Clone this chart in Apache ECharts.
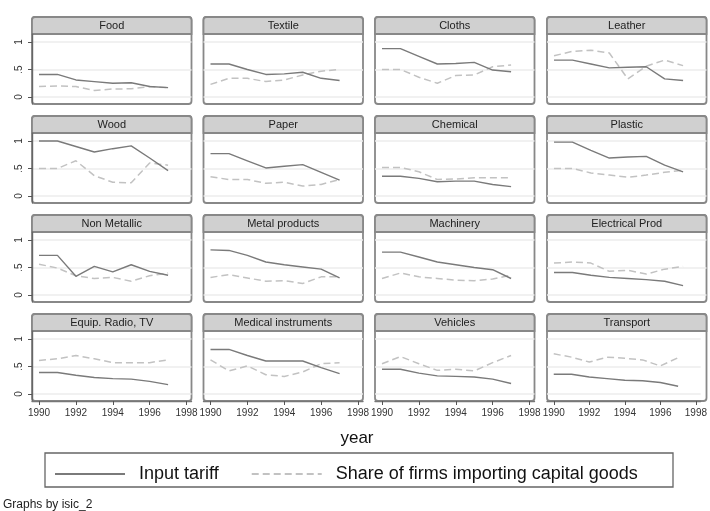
<!DOCTYPE html>
<html>
<head>
<meta charset="utf-8">
<script src="https://cdn.jsdelivr.net/npm/echarts@6/dist/echarts.min.js"></script>
<style>html,body{margin:0;padding:0;background:#fff}#c{width:710px;height:511px}</style>
</head>
<body>
<div id="c"></div>
<script>
const years = [1990, 1991, 1992, 1993, 1994, 1995, 1996, 1997];
const xTicks = [1990, 1992, 1994, 1996, 1998];
const yTicks = [0, 0.5, 1];
const industries = ["Food", "Textile", "Cloths", "Leather", "Wood", "Paper", "Chemical", "Plastic",
  "Non Metallic", "Metal products", "Machinery", "Electrical Prod",
  "Equip. Radio, TV", "Medical instruments", "Vehicles", "Transport"];

const tariffFood = [0.41, 0.41, 0.31, 0.28, 0.25, 0.26, 0.19, 0.17];
const shareFood = [0.19, 0.20, 0.19, 0.12, 0.145, 0.15, 0.19, 0.17];
const tariffTextile = [0.60, 0.60, 0.50, 0.41, 0.42, 0.45, 0.34, 0.30];
const shareTextile = [0.23, 0.34, 0.34, 0.28, 0.31, 0.40, 0.47, 0.50];
const tariffCloths = [0.88, 0.88, 0.74, 0.60, 0.61, 0.63, 0.49, 0.46];
const shareCloths = [0.50, 0.50, 0.36, 0.25, 0.39, 0.40, 0.55, 0.58];
const tariffLeather = [0.67, 0.67, 0.60, 0.53, 0.54, 0.55, 0.33, 0.30];
const shareLeather = [0.75, 0.83, 0.85, 0.80, 0.33, 0.56, 0.67, 0.57];
const tariffWood = [1.00, 1.00, 0.90, 0.80, 0.86, 0.91, 0.69, 0.46];
const shareWood = [0.50, 0.50, 0.64, 0.37, 0.25, 0.24, 0.60, 0.56];
const tariffPaper = [0.77, 0.77, 0.64, 0.51, 0.54, 0.57, 0.43, 0.29];
const sharePaper = [0.35, 0.30, 0.30, 0.23, 0.25, 0.18, 0.21, 0.30];
const tariffChemical = [0.36, 0.36, 0.32, 0.26, 0.27, 0.27, 0.21, 0.17];
const shareChemical = [0.52, 0.52, 0.44, 0.30, 0.31, 0.33, 0.33, 0.33];
const tariffPlastic = [0.98, 0.98, 0.83, 0.69, 0.71, 0.72, 0.56, 0.44];
const sharePlastic = [0.50, 0.50, 0.42, 0.38, 0.34, 0.38, 0.43, 0.47];
const tariffNonMetallic = [0.72, 0.72, 0.34, 0.52, 0.42, 0.55, 0.43, 0.36];
const shareNonMetallic = [0.56, 0.49, 0.35, 0.30, 0.32, 0.25, 0.35, 0.40];
const tariffMetal = [0.82, 0.81, 0.72, 0.60, 0.55, 0.51, 0.47, 0.31];
const shareMetal = [0.32, 0.37, 0.31, 0.25, 0.26, 0.21, 0.33, 0.33];
const tariffMachinery = [0.78, 0.78, 0.69, 0.60, 0.55, 0.50, 0.46, 0.30];
const shareMachinery = [0.30, 0.40, 0.33, 0.30, 0.27, 0.26, 0.29, 0.36];
const tariffElectrical = [0.41, 0.41, 0.36, 0.32, 0.30, 0.28, 0.25, 0.17];
const shareElectrical = [0.58, 0.60, 0.58, 0.43, 0.45, 0.38, 0.47, 0.52];
const tariffRadioTV = [0.39, 0.39, 0.34, 0.30, 0.28, 0.27, 0.23, 0.17];
const shareRadioTV = [0.61, 0.64, 0.70, 0.64, 0.57, 0.57, 0.57, 0.62];
const tariffMedical = [0.81, 0.81, 0.70, 0.60, 0.60, 0.60, 0.48, 0.37];
const shareMedical = [0.62, 0.42, 0.51, 0.35, 0.32, 0.40, 0.55, 0.57];
const tariffVehicles = [0.45, 0.45, 0.38, 0.33, 0.32, 0.31, 0.27, 0.19];
const shareVehicles = [0.55, 0.68, 0.55, 0.43, 0.45, 0.42, 0.57, 0.70];
const tariffTransport = [0.36, 0.36, 0.31, 0.28, 0.25, 0.24, 0.21, 0.14];
const shareTransport = [0.73, 0.67, 0.58, 0.67, 0.65, 0.62, 0.51, 0.66];

const tariffList = [tariffFood, tariffTextile, tariffCloths, tariffLeather, tariffWood, tariffPaper,
  tariffChemical, tariffPlastic, tariffNonMetallic, tariffMetal, tariffMachinery, tariffElectrical,
  tariffRadioTV, tariffMedical, tariffVehicles, tariffTransport];
const shareList = [shareFood, shareTextile, shareCloths, shareLeather, shareWood, sharePaper,
  shareChemical, sharePlastic, shareNonMetallic, shareMetal, shareMachinery, shareElectrical,
  shareRadioTV, shareMedical, shareVehicles, shareTransport];

const tariffName = "Input tariff";
const shareName = "Share of firms importing capital goods";

const FONT = "Liberation Sans, Arial, Helvetica, sans-serif";
const colLeft = [32, 203.5, 375, 547];
const rowTop = [17, 116, 215, 314];
const panelW = 159.5, headH = 17, panelH = 87;

const grids = [], xAxes = [], yAxes = [], series = [], graphics = [];
industries.forEach((name, i) => {
  const r = Math.floor(i / 4), c = i % 4;
  const L = colLeft[c], T = rowTop[r];
  graphics.push({ type: 'rect', z: -5, shape: { x: L, y: T, width: panelW, height: panelH, r: 3 },
    style: { fill: '#fff', stroke: '#888', lineWidth: 1.8 } });
  graphics.push({ type: 'rect', z: -4, shape: { x: L, y: T, width: panelW, height: headH, r: [3, 3, 0, 0] },
    style: { fill: '#d0d0d0', stroke: '#888', lineWidth: 1.8 } });
  graphics.push({ type: 'text', z: 5, x: L + panelW / 2, y: T + headH / 2 + 0.5,
    style: { text: name, align: 'center', verticalAlign: 'middle', font: '11px ' + FONT, fill: '#222' } });
  grids.push({ left: L, top: T + headH, width: panelW, height: panelH - headH, show: false });
  const bottom = r === 3, left = c === 0;
  xAxes.push({ type: 'value', gridIndex: i, min: 1989.62, max: 1998.27,
    axisLine: { show: bottom, onZero: false, lineStyle: { color: '#777', width: 1.4 } },
    axisTick: { show: bottom, length: 4, customValues: xTicks, lineStyle: { color: '#555' } },
    axisLabel: { show: bottom, customValues: xTicks, margin: 7, fontSize: 10, fontFamily: FONT, color: '#333',
      formatter: v => String(Math.round(v)) },
    splitLine: { show: false } });
  yAxes.push({ type: 'value', gridIndex: i, min: -0.127, max: 1.145,
    axisLine: { show: left, onZero: false, lineStyle: { color: '#666', width: 1.4 } },
    axisTick: { show: left, length: 4, customValues: yTicks, lineStyle: { color: '#555' } },
    axisLabel: { show: left, customValues: yTicks, rotate: 90, margin: 8, fontSize: 10, fontFamily: FONT, color: '#333',
      formatter: v => (v === 0.5 ? '.5' : String(v)) },
    splitLine: { show: true, lineStyle: { color: '#ececec', width: 1.5 } } });
  series.push({ name: shareName, type: 'line', xAxisIndex: i, yAxisIndex: i, symbol: 'none', silent: true,
    data: years.map((y, k) => [y, shareList[i][k]]),
    lineStyle: { color: '#c2c2c2', width: 1.5, type: [7, 4] }, itemStyle: { color: '#c2c2c2' } });
  series.push({ name: tariffName, type: 'line', xAxisIndex: i, yAxisIndex: i, symbol: 'none', silent: true,
    data: years.map((y, k) => [y, tariffList[i][k]]),
    lineStyle: { color: '#7a7a7a', width: 1.4 }, itemStyle: { color: '#7a7a7a' } });
});

graphics.push({ type: 'text', x: 357, y: 438,
  style: { text: 'year', align: 'center', verticalAlign: 'middle', font: '17px ' + FONT, fill: '#111' } });
graphics.push({ type: 'rect', shape: { x: 45, y: 453, width: 628, height: 34 },
  style: { fill: 'none', stroke: '#666', lineWidth: 1.3 } });
graphics.push({ type: 'text', x: 3, y: 505,
  style: { text: 'Graphs by isic_2', align: 'left', verticalAlign: 'middle', font: '12px ' + FONT, fill: '#222' } });

const chart = echarts.init(document.getElementById('c'), null, { renderer: 'canvas' });
chart.setOption({
  animation: false,
  backgroundColor: '#fff',
  grid: grids, xAxis: xAxes, yAxis: yAxes, series: series,
  legend: { data: [tariffName, shareName], left: 54, top: 465, padding: 0, itemWidth: 70, itemHeight: 4, itemGap: 32,
    selectedMode: false, itemStyle: { opacity: 0 },
    textStyle: { fontSize: 18, fontFamily: FONT, color: '#111', padding: [0, 0, 0, 9] } },
  graphic: graphics
});
</script>
</body>
</html>
